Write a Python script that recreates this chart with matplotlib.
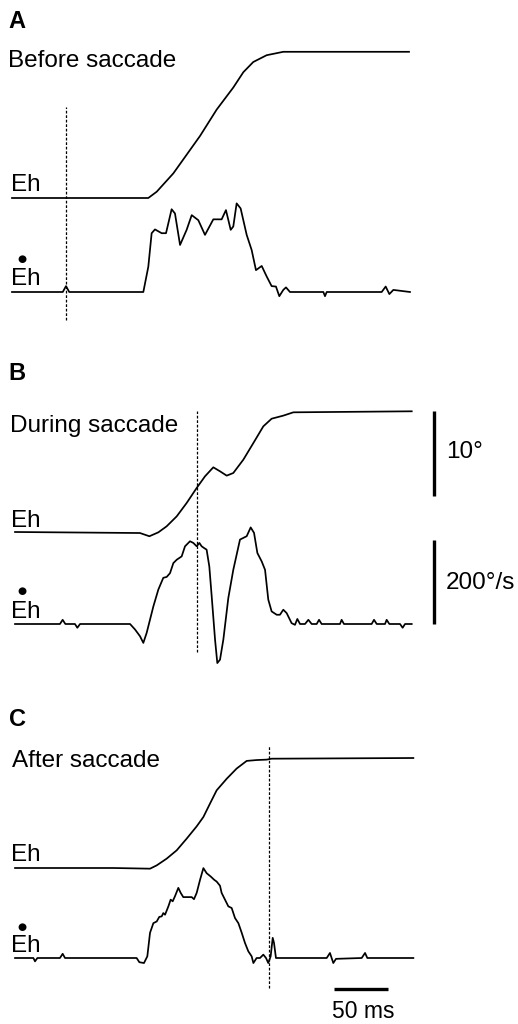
"""
Saccade traces (Eh position and Eh velocity) before, during and after a saccade.
Three panels, each with a position trace and a velocity trace; scale bars in B and C.
"""

import matplotlib.pyplot as plt

plt.rcParams['font.family'] = ['Liberation Sans', 'DejaVu Sans']

W, H = 518, 1024
PX_PER_MS = 1.08      # horizontal scale of the traces
PX_PER_DEG = 8.5      # position traces
PX_PER_DPS = 0.42     # velocity traces
LEFT_PX = 12          # where t = 0 sits

# ---- Panel A: before saccade ----
a_pos_t = [0, 126.2, 134.0, 149.4, 174.1, 189.5, 204.9, 214.2, 223.4, 235.8, 251.2, 367.6]
a_pos = [0, 0, 0.74, 2.9, 7.3, 10.4, 13.0, 14.8, 16.0, 16.8, 17.2, 17.2]
a_vel_t = [0, 47, 50, 53, 121.6, 126.2, 129.3, 132.4, 138.6, 142.6,
           147.8, 150.9, 155.6, 161.7, 166.4, 172.5, 178.7, 186.4, 194.1, 198.1,
           202.5, 204.9, 208.0, 211.7, 217.3, 221.9, 225.9, 231.2, 235.8, 240.4,
           244.4, 247.5, 251.2, 253.7, 257.4, 288.3, 289.8, 291.4, 342.3, 346.0,
           349.4, 353.1, 368.5]
a_vel = [0, 0, 14, 0, 0, 60, 140, 149, 140, 140,
         197, 187, 112, 148, 183, 171, 136, 173, 173, 195,
         148, 156, 211, 199, 136, 100, 52, 62, 37, 14,
         13, -10, 5, 11, 0, 0, -10, 0, 0, 13,
         -5, 5, 0]
a_marker_t = 50

# ---- Panel B: during saccade ----
b_pos_t = [2.8, 118.5, 127.2, 135.5, 143.2, 152.5, 161.7, 171.0, 178.7, 186.4,
           192.6, 198.8, 204.9, 214.2, 223.5, 232.7, 240.4, 251.2, 260.5, 370.1]
b_pos = [0, -0.12, -0.5, -0.04, 0.67, 1.84, 3.41, 5.18, 6.55, 7.61,
         7.14, 6.63, 6.94, 8.51, 10.47, 12.43, 13.33, 13.69, 14.08, 14.2]
b_vel_t = [2.8, 44.4, 46.9, 49.4, 58.3, 60.5, 63.0, 109.3, 113.9, 118.5,
           121.6, 124.7, 130.9, 135.5, 140.1, 143.2, 146.3, 149.4, 152.5, 157.1,
           160.2, 164.8, 167.9, 171.0, 173.5, 175.6, 177.8, 180.2, 182.7, 184.9,
           188.0, 190.1, 192.6, 195.7, 200.3, 204.9, 211.1, 217.3, 221.0, 224.1,
           227.2, 231.2, 234.3, 237.3, 240.4, 245.1, 248.1, 251.2, 254.3, 258.9,
           262.0, 264.2, 266.7, 271.3, 274.4, 277.5, 282.1, 284.3, 286.7, 303.7,
           305.2, 307.4, 333.0, 335.2, 337.7, 345.4, 346.9, 349.4, 359.3, 361.7,
           363.9, 370.1]
b_vel = [0, 0, 10, 0, 0, -9, 0, 0, -13, -29,
         -45, -21, 42, 82, 110, 112, 121, 145, 153, 161,
         185, 197, 193, 185, 193, 185, 181, 177, 137, 66,
         -37, -93, -85, -37, 62, 129, 201, 209, 230, 217,
         169, 149, 129, 58, 30, 22, 22, 34, 26, 2,
         -2, 12, 0, 0, 10, 0, 0, 10, 0, 0,
         10, 0, 0, 10, 0, 0, 10, 0, 0, -9,
         0, 0]
b_marker_t = 171.6

# ---- Panel C: after saccade ----
c_pos_t = [2.8, 93.8, 127.8, 134.0, 143.2, 152.5, 161.7, 171.0, 177.2, 183.3,
           189.5, 198.8, 208.0, 217.3, 226.5, 235.8, 240.4, 371.6]
c_pos = [0, 0, -0.08, 0.31, 1.1, 2.08, 3.45, 4.9, 6.0, 7.57,
         9.14, 10.5, 11.7, 12.6, 12.7, 12.75, 12.86, 12.94]
c_vel_t = [2.8, 19.8, 21.3, 23.5, 44.4, 46.9, 49.1, 115.4, 117.9, 122.2,
           125.3, 127.8, 130.9, 134.0, 136.4, 138.6, 140.1, 141.7, 144.8, 146.9,
           148.8, 150.9, 154.0, 156.2, 158.6, 163.3, 166.4, 168.5, 171.0, 174.1,
           177.2, 180.2, 184.0, 187.3, 189.5, 192.6, 194.1, 197.2, 200.3, 203.4,
           206.5, 209.6, 212.7, 215.7, 218.8, 221.9, 223.5, 226.5, 229.6, 232.7,
           235.2, 237.3, 239.5, 241.4, 242.6, 244.4, 291.4, 294.4, 297.5, 300.0,
           323.8, 326.9, 329.0, 371.6]
c_vel = [0, 0, -8, 0, 0, 10, 0, 0, -10, -12,
         4, 60, 83, 87, 98, 99, 107, 103, 123, 139,
         135, 147, 167, 155, 145, 145, 145, 140, 155, 186,
         214, 202, 194, 186, 182, 172, 155, 139, 123, 119,
         95, 83, 60, 36, 16, 4, -12, 0, 0, 8,
         0, -12, 4, 48, 36, 0, 0, 12, -12, -2,
         0, 12, 0, 0]
c_marker_t = 238

# scale bars
SCALE_DEG = 10
SCALE_DPS = 200
SCALE_MS = 50


def trace_axes(fig, base_px, px_per_unit):
    """Full-figure transparent axes: x in ms, y in trace units, zero at base_px (from top)."""
    ax = fig.add_axes([0, 0, 1, 1])
    ax.set_xlim(-LEFT_PX / PX_PER_MS, (W - LEFT_PX) / PX_PER_MS)
    ax.set_ylim((base_px - H) / px_per_unit, base_px / px_per_unit)
    ax.axis('off')
    ax.patch.set_alpha(0)
    return ax


def marker_line(ax, t, top_px, bottom_px):
    ax.axvline(t, ymin=1 - bottom_px / H, ymax=1 - top_px / H,
               color='black', lw=0.9, ls=(0, (2.2, 1.4)))


def label(fig, x_px, y_px, text, **kw):
    kw.setdefault('ha', 'left')
    fig.text(x_px / W, 1 - y_px / H, text, va='center', **kw)


def eh_labels(fig, eh_y, ehdot_y, dot_y):
    label(fig, 11, eh_y, 'Eh', fontsize=17.5)
    label(fig, 11, ehdot_y, 'Eh', fontsize=17.5)
    # dot over the E: time derivative
    label(fig, 21.5, dot_y, '\u25cf', fontsize=7.5, ha='center',
          family=['DejaVu Sans'])


fig = plt.figure(figsize=(W / 100, H / 100), dpi=100)
fig.patch.set_facecolor('white')
line_kw = dict(color='black', lw=1.25, solid_joinstyle='round')

# Panel A
ax = trace_axes(fig, 198, PX_PER_DEG)
ax.plot(a_pos_t, a_pos, **line_kw)
marker_line(ax, a_marker_t, 107, 320)
ax = trace_axes(fig, 292, PX_PER_DPS)
ax.plot(a_vel_t, a_vel, **line_kw)
label(fig, 8, 21, 'A', fontsize=17, fontweight='bold')
label(fig, 8, 61, 'Before saccade', fontsize=17.5)
eh_labels(fig, 185, 279, 259)

# Panel B
ax = trace_axes(fig, 532, PX_PER_DEG)
ax.plot(b_pos_t, b_pos, **line_kw)
marker_line(ax, b_marker_t, 411, 652)
bar_t = (434 - LEFT_PX) / PX_PER_MS
ax.plot([bar_t, bar_t], [b_pos[-1] - SCALE_DEG, b_pos[-1]], color='black', lw=2.4,
        solid_capstyle='butt')
ax = trace_axes(fig, 624, PX_PER_DPS)
ax.plot(b_vel_t, b_vel, **line_kw)
ax.plot([bar_t, bar_t], [0, SCALE_DPS], color='black', lw=2.4, solid_capstyle='butt')
label(fig, 8, 373, 'B', fontsize=17, fontweight='bold')
label(fig, 10, 426, 'During saccade', fontsize=17.5)
label(fig, 446, 452, '10\u00b0', fontsize=17.5)
label(fig, 446, 583, '200\u00b0/s', fontsize=17.5)
eh_labels(fig, 521, 612, 591)

# Panel C
ax = trace_axes(fig, 868, PX_PER_DEG)
ax.plot(c_pos_t, c_pos, **line_kw)
marker_line(ax, c_marker_t, 746, 988)
ax = trace_axes(fig, 958, PX_PER_DPS)
ax.plot(c_vel_t, c_vel, **line_kw)
bar_start = (334 - LEFT_PX) / PX_PER_MS
bar_y = -(989 - 958) / PX_PER_DPS
ax.plot([bar_start, bar_start + SCALE_MS], [bar_y, bar_y], color='black', lw=2.4,
        solid_capstyle='butt')
label(fig, 9, 720, 'C', fontsize=17, fontweight='bold')
label(fig, 12, 761, 'After saccade', fontsize=17.5)
label(fig, 332, 1011, '50 ms', fontsize=16.5)
eh_labels(fig, 855, 946, 927)

plt.savefig('out.png', dpi=100)
